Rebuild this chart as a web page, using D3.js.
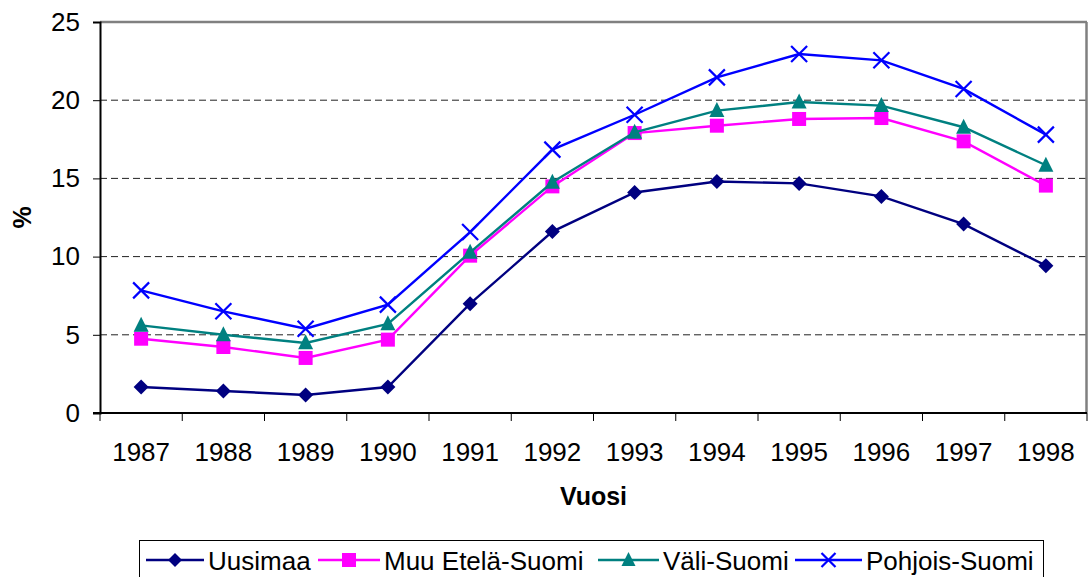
<!DOCTYPE html>
<html>
<head>
<meta charset="utf-8">
<script src="https://cdn.jsdelivr.net/npm/d3@7"></script>
<style>
  html, body { margin: 0; padding: 0; background: #fff; }
  svg { display: block; font-family: "Liberation Sans", Arial, sans-serif; }
</style>
</head>
<body>
<script>
const years = ["1987","1988","1989","1990","1991","1992","1993","1994","1995","1996","1997","1998"];
const uusimaa = [1.66, 1.41, 1.15, 1.66, 6.99, 11.6, 14.1, 14.8, 14.68, 13.85, 12.08, 9.42];
const muuEtelaSuomi = [4.75, 4.22, 3.52, 4.69, 10.06, 14.49, 17.9, 18.37, 18.8, 18.86, 17.37, 14.54];
const valiSuomi = [5.6, 5.0, 4.48, 5.7, 10.27, 14.75, 17.95, 19.33, 19.88, 19.65, 18.27, 15.84];
const pohjoisSuomi = [7.84, 6.5, 5.39, 6.93, 11.57, 16.84, 19.07, 21.46, 22.95, 22.55, 20.72, 17.8];
const seriesNames = ["Uusimaa", "Muu Etelä-Suomi", "Väli-Suomi", "Pohjois-Suomi"];
const yTicks = [0, 5, 10, 15, 20, 25];
const xTitle = "Vuosi";
const yTitle = "%";

const seriesValues = [uusimaa, muuEtelaSuomi, valiSuomi, pohjoisSuomi];
const colors = ["#000080", "#FF00FF", "#008080", "#0000FF"];
const markers = ["diamond", "square", "triangle", "cross"];

const W = 1088, H = 577;
const pLeft = 100, pRight = 1087, pTop = 22, pBottom = 413;

const svg = d3.select("body").append("svg").attr("width", W).attr("height", H);

const x = d3.scaleBand().domain(years).range([pLeft, pRight]).padding(0);
const y = d3.scaleLinear().domain([0, 25]).range([pBottom, pTop]);
const cx = d => x(d) + x.bandwidth() / 2;

// gridlines
svg.append("g").selectAll("line").data(yTicks.filter(t => t > 0 && t < 25)).join("line")
  .attr("x1", pLeft).attr("x2", pRight)
  .attr("y1", d => y(d)).attr("y2", d => y(d))
  .attr("stroke", "#222").attr("stroke-width", 1).attr("stroke-dasharray", "7,4");

// frame top/right
svg.append("line").attr("x1", pLeft).attr("x2", pRight).attr("y1", y(25)).attr("y2", y(25))
  .attr("stroke", "#808080").attr("stroke-width", 2.5);
svg.append("line").attr("x1", pRight - 0.5).attr("x2", pRight - 0.5).attr("y1", y(25)).attr("y2", pBottom)
  .attr("stroke", "#808080").attr("stroke-width", 2.5);

// y axis
const yAxis = d3.axisLeft(y).tickValues(yTicks).tickSize(7).tickPadding(13);
const gy = svg.append("g").attr("transform", `translate(${pLeft},0)`).call(yAxis);
gy.select(".domain").attr("stroke", "#000").attr("stroke-width", 2);
gy.selectAll(".tick line").attr("stroke", "#000").attr("stroke-width", 1);
gy.selectAll(".tick text").attr("font-size", 26).attr("fill", "#000")
  .attr("font-family", "Liberation Sans, Arial, sans-serif");

// x axis
const gx = svg.append("g");
gx.append("line").attr("x1", pLeft - 7).attr("x2", pRight).attr("y1", pBottom).attr("y2", pBottom)
  .attr("stroke", "#000").attr("stroke-width", 2);
const boundaries = years.map(d => x(d)).concat([x(years[years.length - 1]) + x.bandwidth()]);
gx.selectAll("line.tk").data(boundaries).join("line").attr("class", "tk")
  .attr("x1", d => d).attr("x2", d => d).attr("y1", pBottom).attr("y2", pBottom + 8)
  .attr("stroke", "#000").attr("stroke-width", 1);
gx.selectAll("text").data(years).join("text")
  .attr("x", d => cx(d)).attr("y", 460.5)
  .attr("text-anchor", "middle").attr("font-size", 26).attr("fill", "#000")
  .text(d => d);

// titles
svg.append("text").attr("x", (pLeft + pRight) / 2).attr("y", 505)
  .attr("text-anchor", "middle").attr("font-size", 25).attr("font-weight", "bold").text(xTitle);
svg.append("text").attr("transform", `translate(31,${(pTop + pBottom) / 2}) rotate(-90)`)
  .attr("text-anchor", "middle").attr("font-size", 25).attr("font-weight", "bold").text(yTitle);

function drawMarker(g, type, color, size) {
  if (type === "diamond") {
    g.append("path").attr("d", `M0,${-size}L${size},0L0,${size}L${-size},0Z`).attr("fill", color);
  } else if (type === "square") {
    g.append("rect").attr("x", -size).attr("y", -size).attr("width", 2 * size).attr("height", 2 * size).attr("fill", color);
  } else if (type === "triangle") {
    g.append("path").attr("d", `M0,${-size * 1.15}L${size},${size * 0.85}L${-size},${size * 0.85}Z`).attr("fill", color);
  } else if (type === "cross") {
    g.append("path").attr("d", `M${-size},${-size}L${size},${size}M${-size},${size}L${size},${-size}`)
      .attr("stroke", color).attr("stroke-width", 2.2).attr("fill", "none");
  }
}

// series
const line = d3.line().x((d, i) => cx(years[i])).y(d => y(d));
seriesValues.forEach((vals, si) => {
  const g = svg.append("g");
  g.append("path").datum(vals).attr("d", line).attr("fill", "none")
    .attr("stroke", colors[si]).attr("stroke-width", 2.4);
  vals.forEach((v, i) => {
    const mg = g.append("g").attr("transform", `translate(${cx(years[i])},${y(v)})`);
    drawMarker(mg, markers[si], colors[si], si === 0 ? 7.5 : si === 1 ? 7 : si === 2 ? 7.5 : 8);
  });
});

// legend
const lg = svg.append("g");
lg.append("rect").attr("x", 139.5).attr("y", 540.5).attr("width", 904).attr("height", 60)
  .attr("fill", "#fff").attr("stroke", "#000").attr("stroke-width", 1);
const legendItems = [
  { lx1: 146, lx2: 204, tx: 208 },
  { lx1: 318, lx2: 380, tx: 384 },
  { lx1: 598, lx2: 659, tx: 663 },
  { lx1: 795, lx2: 862, tx: 866 }
];
const ly = 560;
seriesNames.forEach((name, si) => {
  const it = legendItems[si];
  lg.append("line").attr("x1", it.lx1).attr("x2", it.lx2).attr("y1", ly).attr("y2", ly)
    .attr("stroke", colors[si]).attr("stroke-width", 2.4);
  const mg = lg.append("g").attr("transform", `translate(${(it.lx1 + it.lx2) / 2},${ly})`);
  drawMarker(mg, markers[si], colors[si], si === 3 ? 7 : 7);
  lg.append("text").attr("x", it.tx).attr("y", 570).attr("font-size", 26).attr("fill", "#000").text(name);
});
</script>
</body>
</html>
